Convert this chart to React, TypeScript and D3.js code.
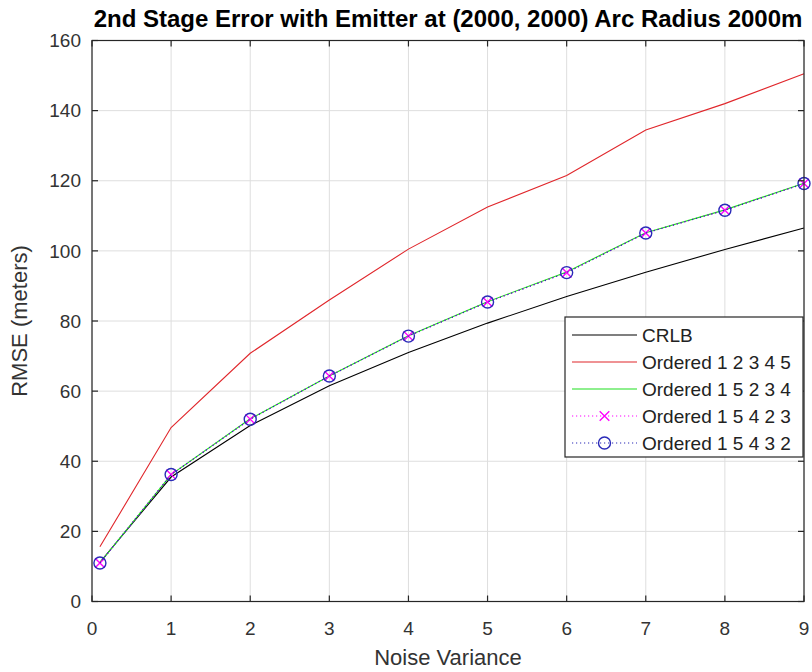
import React from "react";
import * as d3 from "d3";

const noiseVariance = [0.1, 1, 2, 3, 4, 5, 6, 7, 8, 9];
const crlb = [11.2, 35.5, 50.2, 61.5, 71.0, 79.4, 87.0, 93.9, 100.4, 106.5];
const ordered12345 = [15.6, 49.6, 70.8, 86.0, 100.5, 112.5, 121.5, 134.5, 142.0, 150.5];
const ordered15234 = [11.0, 36.2, 52.1, 64.3, 75.8, 85.5, 94.0, 105.2, 111.7, 119.3];
const ordered15423 = [11.0, 36.2, 52.0, 64.3, 75.7, 85.4, 93.8, 105.1, 111.6, 119.2];
const ordered15432 = [11.0, 36.2, 52.0, 64.3, 75.7, 85.4, 93.8, 105.1, 111.6, 119.2];
const xTicks = [0, 1, 2, 3, 4, 5, 6, 7, 8, 9];
const yTicks = [0, 20, 40, 60, 80, 100, 120, 140, 160];
const seriesNames = ["CRLB", "Ordered 1 2 3 4 5", "Ordered 1 5 2 3 4", "Ordered 1 5 4 2 3", "Ordered 1 5 4 3 2"];

const W = 812, H = 672;
const L = 92, R = 804, T = 40.5, B = 601.5;
const FONT = "'Liberation Sans', Arial, Helvetica, sans-serif";
const AX = "#262626";

type S = { name: string; values: number[]; color: string; dash?: string; marker?: "x" | "o"; width: number };

export default function App() {
  const x = d3.scaleLinear().domain([0, 9]).range([L, R]);
  const y = d3.scaleLinear().domain([0, 160]).range([B, T]);
  const series: S[] = [
    { name: seriesNames[0], values: crlb, color: "#000000", width: 1.1 },
    { name: seriesNames[1], values: ordered12345, color: "#e0262b", width: 1.1 },
    { name: seriesNames[2], values: ordered15234, color: "#1ee01e", width: 1.1 },
    { name: seriesNames[3], values: ordered15423, color: "#ff00ff", dash: "1.2,2.8", marker: "x", width: 1.1 },
    { name: seriesNames[4], values: ordered15432, color: "#2a2ab8", dash: "1.2,2.8", marker: "o", width: 1.1 },
  ];
  const line = d3.line<number>().x((_, i) => x(noiseVariance[i])).y((d) => y(d));

  const marker = (m: "x" | "o" | undefined, cx: number, cy: number, color: string, key: string) => {
    if (m === "x") {
      const s = 4.8;
      return (
        <path key={key} d={`M${cx - s},${cy - s}L${cx + s},${cy + s}M${cx - s},${cy + s}L${cx + s},${cy - s}`} stroke={color} strokeWidth={1.4} fill="none" />
      );
    }
    if (m === "o") {
      return <circle key={key} cx={cx} cy={cy} r={6} stroke={color} strokeWidth={1.4} fill="none" />;
    }
    return null;
  };

  const legX = 565, legY = 317, legW = 238, legH = 140;
  const rowY = (i: number) => legY + 18 + i * 27;

  return (
    <svg width={W} height={H} style={{ position: "absolute", left: 0, top: 0, background: "#fff" }} fontFamily={FONT}>
      <rect x={0} y={0} width={W} height={H} fill="#fff" />
      <rect x={L} y={T} width={R - L} height={B - T} fill="#fff" />
      {xTicks.map((t) => (
        <line key={"gx" + t} x1={x(t)} x2={x(t)} y1={T} y2={B} stroke="#dedede" strokeWidth={1} />
      ))}
      {yTicks.map((t) => (
        <line key={"gy" + t} x1={L} x2={R} y1={y(t)} y2={y(t)} stroke="#dedede" strokeWidth={1} />
      ))}
      {series.map((s) => (
        <g key={s.name}>
          <path d={line(s.values) || ""} fill="none" stroke={s.color} strokeWidth={s.width} strokeDasharray={s.dash} />
          {s.marker && s.values.map((v, i) => marker(s.marker, x(noiseVariance[i]), y(v), s.color, s.name + i))}
        </g>
      ))}
      <rect x={L} y={T} width={R - L} height={B - T} fill="none" stroke={AX} strokeWidth={1.2} />
      {xTicks.map((t) => (
        <g key={"tx" + t}>
          <line x1={x(t)} x2={x(t)} y1={B} y2={B - 6} stroke={AX} strokeWidth={1.2} />
          <line x1={x(t)} x2={x(t)} y1={T} y2={T + 6} stroke={AX} strokeWidth={1.2} />
          <text x={x(t)} y={635} textAnchor="middle" fontSize={19} fill="#333">{t}</text>
        </g>
      ))}
      {yTicks.map((t) => (
        <g key={"ty" + t}>
          <line x1={L} x2={L + 6} y1={y(t)} y2={y(t)} stroke={AX} strokeWidth={1.2} />
          <line x1={R} x2={R - 6} y1={y(t)} y2={y(t)} stroke={AX} strokeWidth={1.2} />
          <text x={81} y={y(t)} dy="0.35em" textAnchor="end" fontSize={19} fill="#333">{t}</text>
        </g>
      ))}
      <text x={(L + R) / 2} y={665} textAnchor="middle" fontSize={22} fill="#333">Noise Variance</text>
      <text transform={`translate(27,${(T + B) / 2}) rotate(-90)`} textAnchor="middle" fontSize={22} fill="#333">RMSE (meters)</text>
      <text x={(L + R) / 2} y={27} textAnchor="middle" fontSize={24} fontWeight="bold" fill="#000">
        2nd Stage Error with Emitter at (2000, 2000) Arc Radius 2000m
      </text>
      <rect x={legX} y={legY} width={legW} height={legH} fill="#fff" stroke={AX} strokeWidth={1.2} />
      {series.map((s, i) => (
        <g key={"leg" + s.name}>
          <line x1={572} x2={637} y1={rowY(i)} y2={rowY(i)} stroke={s.color} strokeWidth={s.width} strokeDasharray={s.dash} />
          {marker(s.marker, 604.5, rowY(i), s.color, "lm" + i)}
          <text x={642} y={rowY(i)} dy="0.35em" fontSize={19} fill="#222">{s.name}</text>
        </g>
      ))}
    </svg>
  );
}
